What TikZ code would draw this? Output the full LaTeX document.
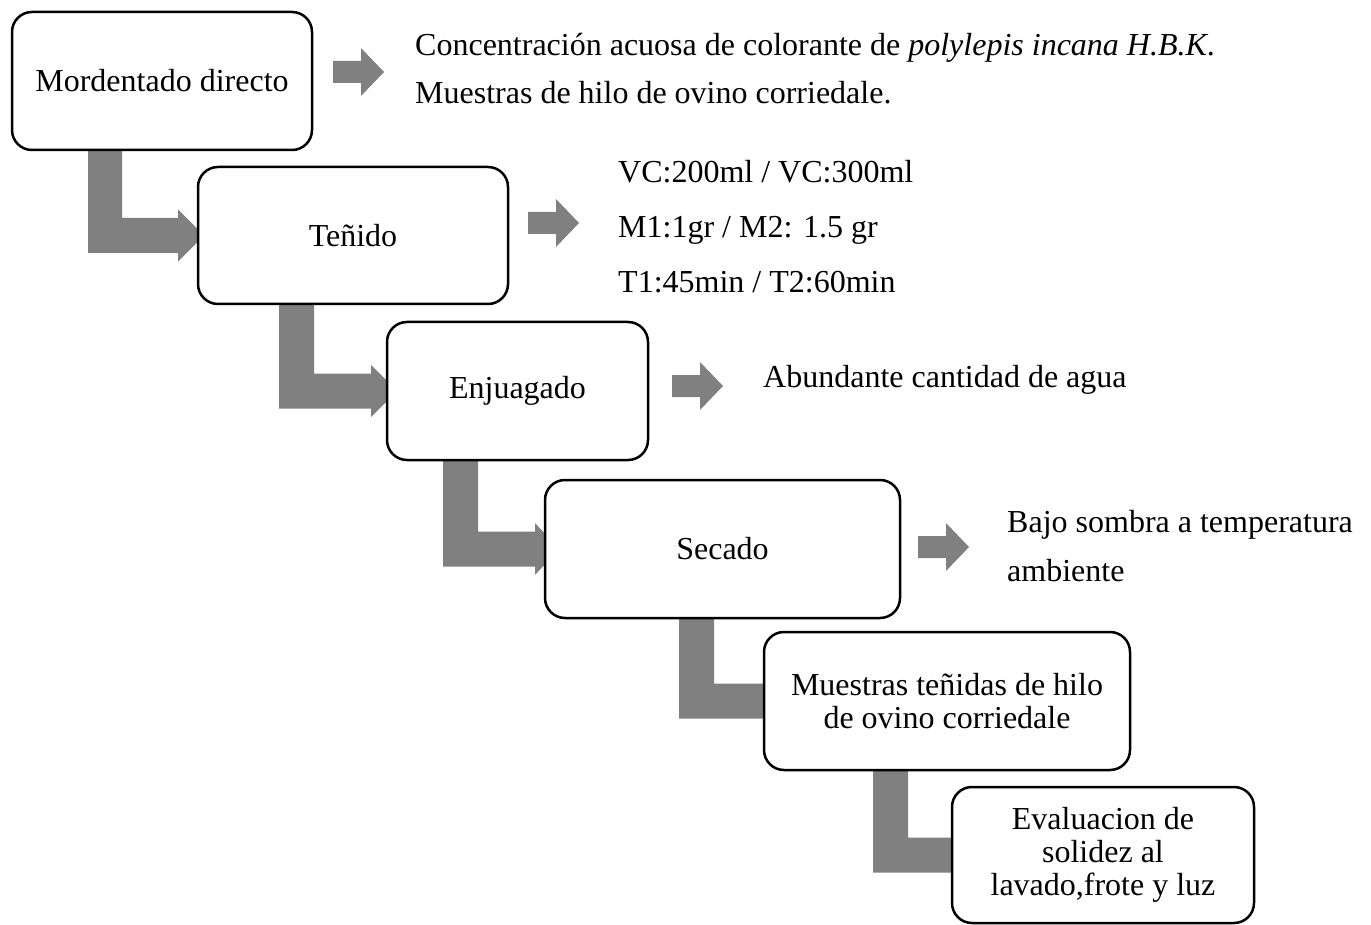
\documentclass[tikz,border=0pt]{standalone}
\usepackage{fontspec}
\setmainfont{Liberation Serif}
\usetikzlibrary{calc}
\pgfdeclarelayer{bg}
\pgfsetlayers{bg,main}
\definecolor{flowgray}{RGB}{128,128,128}
\tikzset{
  box/.style={draw=black, line width=2.5pt, rounded corners=20pt, fill=white,
    outer sep=0pt, inner sep=0pt, align=center, font=\fontsize{32}{33}\selectfont},
  sidetext/.style={anchor=base west, inner sep=0pt, font=\fontsize{32}{38}\selectfont},
  flow/.style={fill=flowgray},
}
% #1 source, #2 target, #3 bar left x, #4 bar right x, #5 head start offset, #6 tip offset
\newcommand\flowelbow[6]{%
  \fill[flow] (#3,0 |- #1.south) -- (#4,0 |- #1.south)
    -- ($(#4,0 |- #2.west)+(0,-17.5)$)
    -- ($(#2.west)+(#5,-17.5)$) -- ($(#2.west)+(#5,-26)$) -- ($(#2.west)+(#6,0)$)
    -- ($(#2.west)+(#5,26)$) -- ($(#2.west)+(#5,17.5)$)
    -- ($(#3,0 |- #2.west)+(0,17.5)$) -- cycle;}
% side arrow: #1 left x, #2 centre y
\newcommand\sidearrow[2]{%
  \fill[flow] (#1,#2-11) -- (#1+28,#2-11) -- (#1+28,#2-24) -- (#1+51,#2)
    -- (#1+28,#2+24) -- (#1+28,#2+11) -- (#1,#2+11) -- cycle;}
\begin{document}
\begin{tikzpicture}[x=1pt,y=-1pt]
\useasboundingbox (0,0) rectangle (1371,925);

\node[box, minimum width=300pt, minimum height=138pt] (b1) at (162,81) {Mordentado directo};
\node[box, minimum width=310pt, minimum height=137pt] (b2) at (353,235.5) {Teñido};
\node[box, minimum width=261pt, minimum height=138pt] (b3) at (517.5,391) {Enjuagado};
\node[box, minimum width=355pt, minimum height=138pt] (b4) at (722.5,549) {Secado};
\node[box, minimum width=366pt, minimum height=138pt] (b5) at (947,701) {Muestras teñidas de hilo\\de ovino corriedale};
\node[box, minimum width=302pt, minimum height=136pt] (b6) at (1103,855) {Evaluacion de\\solidez al\\lavado,frote y luz};

\begin{pgfonlayer}{bg}
  \flowelbow{b1}{b2}{88}{122}{-20}{6}
  \flowelbow{b2}{b3}{279}{314}{-16}{10}
  \flowelbow{b3}{b4}{443}{478}{-10}{14}
  \flowelbow{b4}{b5}{679}{714}{10}{36}
  \flowelbow{b5}{b6}{873}{908}{10}{36}
\end{pgfonlayer}

\sidearrow{333}{72}
\sidearrow{528}{223}
\sidearrow{672}{386}
\sidearrow{918}{547}

\node[sidetext] (t1a) at (415,56) {Concentración acuosa de colorante de \textit{polylepis incana H.B.K}.};
\node[sidetext] (t1b) at (415,104) {Muestras de hilo de ovino corriedale.};
\node[sidetext] (t2a) at (618,183) {VC:200ml / VC:300ml};
\node[sidetext] (t2b) at (618,238) {M1:1gr / M2: 1.5 gr};
\node[sidetext] (t2c) at (618,293) {T1:45min / T2:60min};
\node[sidetext] (t3) at (763,388) {Abundante cantidad de agua};
\node[sidetext] (t4a) at (1007,532) {Bajo sombra a temperatura};
\node[sidetext] (t4b) at (1007,581) {ambiente};
\end{tikzpicture}
\end{document}
